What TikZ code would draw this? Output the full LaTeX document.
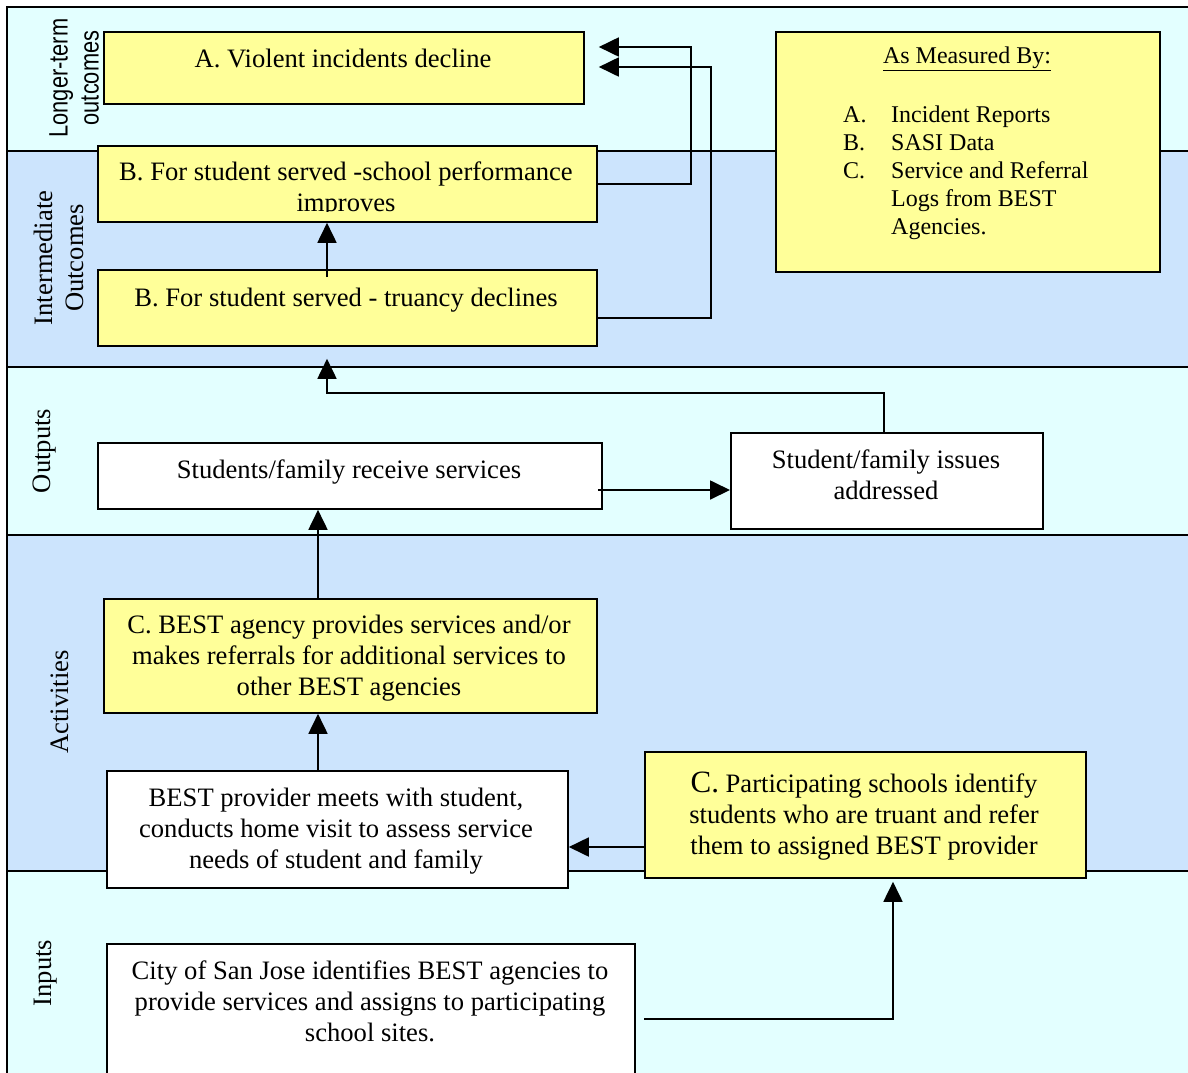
\documentclass[tikz,border=0pt]{standalone}
\usepackage{fontspec}
\setmainfont{Liberation Serif}
\newfontfamily\narrowsans[FakeStretch=0.82]{Liberation Sans}
\usetikzlibrary{arrows.meta}
\definecolor{bandcyan}{RGB}{227,255,255}
\definecolor{bandblue}{RGB}{204,228,253}
\definecolor{noteyellow}{RGB}{255,255,153}

\begin{document}
\begin{tikzpicture}[x=1pt,y=-1pt,
  rule/.style={draw=black, line width=1.6pt},
  box/.style={draw=black, line width=1.8pt, inner sep=0pt, anchor=north west},
  ybox/.style={box, fill=noteyellow},
  wbox/.style={box, fill=white},
  txt/.style={font=\fontsize{26.6}{31}\selectfont, align=center, inner sep=0pt},
  lab/.style={txt, rotate=90},
  arr/.style={line width=1.8pt, -{Triangle[length=20pt,width=19pt]}},
]
\clip (0,0) rectangle (1188,1072);
\fill[white] (0,0) rectangle (1188,1072);

% horizontal bands
\fill[bandcyan] (7,7)   rectangle (1190,151);
\fill[bandblue] (7,151) rectangle (1190,367);
\fill[bandcyan] (7,367) rectangle (1190,535);
\fill[bandblue] (7,535) rectangle (1190,871);
\fill[bandcyan] (7,871) rectangle (1190,1080);
\foreach \yy in {151,367,535,871} \draw[rule] (7,\yy) -- (1190,\yy);
\draw[rule] (7,1080) -- (7,7) -- (1190,7);

% band labels
\node[lab, font=\narrowsans\fontsize{26.6}{31}\selectfont] (Llong) at (74,78) {Longer-term\\outcomes};
\node[lab] (Linter) at (59,258) {Intermediate\\Outcomes};
\node[lab] (Lout) at (45,451) {Outputs};
\node[lab] (Lact) at (60,702) {Activities};
\node[lab] (Lin) at (46,973) {Inputs};

% boxes
\node[ybox, minimum width=480pt, minimum height=72pt]  (A)  at (103,31) {};
\node[ybox, minimum width=499pt, minimum height=76pt]  (B1) at (97,145) {};
\node[ybox, minimum width=499pt, minimum height=76pt]  (B2) at (97,269) {};
\node[ybox, minimum width=384pt, minimum height=240pt] (M)  at (775,31) {};
\node[wbox, minimum width=504pt, minimum height=66pt]  (O1) at (97,442) {};
\node[wbox, minimum width=312pt, minimum height=96pt]  (O2) at (730,432) {};
\node[ybox, minimum width=493pt, minimum height=114pt] (CA) at (103,598) {};
\node[wbox, minimum width=461pt, minimum height=117pt] (BP) at (106,770) {};
\node[ybox, minimum width=441pt, minimum height=126pt] (CP) at (644,751) {};
\node[wbox, minimum width=528pt, minimum height=160pt] (City) at (106,943) {};

% connector guides
\coordinate (v327) at (327,0);
\coordinate (v318) at (318,0);
\coordinate (v893) at (893,0);
\coordinate (k1) at (691,47);
\coordinate (k2) at (711,67);
\coordinate (h393) at (0,393);
\coordinate (h490) at (0,490);
\coordinate (h847) at (0,847);
\coordinate (s1019) at (644,1019);

% connectors
\draw[arr] ([yshift=-8pt]B2.north -| v327) -- (B1.south -| v327);
\draw[arr, shorten >=14pt] (B1.east) -| (k1) -- (k1 -| A.east);
\draw[arr, shorten >=14pt] ([yshift=-10pt]B2.east) -| (k2) -- (k2 -| A.east);
\draw[arr, shorten >=12pt] (O2.north -| 884,0) |- (h393 -| v327) -- (B2.south -| v327);
\draw[arr] ([xshift=-5pt]O1.east |- h490) -- (O2.west |- h490);
\draw[arr] (CA.north -| v318) -- (O1.south -| v318);
\draw[arr] (BP.north -| v318) -- (CA.south -| v318);
\draw[arr] (CP.west |- h847) -- (BP.east |- h847);
\draw[arr, shorten >=3pt] (s1019) -| (v893 |- CP.south);

% box texts
\node[txt] at (343,58) {A. Violent incidents decline};
\begin{scope}
  \clip (97,145) rectangle (596,211);
  \node[txt] at (346,189) {B. For student served -school performance\\improves};
\end{scope}
\node[txt] at (346,300) {B. For student served - truancy declines};
\node[font=\fontsize{24}{28}\selectfont, inner sep=0pt] at (967,59) {\underline{As Measured By:}};
\node[font=\fontsize{24}{28}\selectfont, inner sep=0pt, anchor=base west] at (843,122)
  {\begin{tabular}[t]{@{}p{48pt}@{}l@{}}
    A. & Incident Reports\\
    B. & SASI Data\\
    C. & Service and Referral\\
       & Logs from BEST\\
       & Agencies.
  \end{tabular}};
\node[txt] at (349,472) {Students/family receive services};
\node[txt] at (886,475) {Student/family issues\\addressed};
\node[txt] at (349,658) {C. BEST agency provides services and/or\\makes referrals for additional services to\\other BEST agencies};
\node[txt] at (336,831) {BEST provider meets with student,\\conducts home visit to assess service\\needs of student and family};
\node[txt] at (864,816) {{\fontsize{31}{31}\selectfont C.} Participating schools identify\\students who are truant and refer\\them to assigned BEST provider};
\node[txt] at (370,1001) {City of San Jose identifies BEST agencies to\\provide services and assigns to participating\\school sites.};
\end{tikzpicture}
\end{document}
